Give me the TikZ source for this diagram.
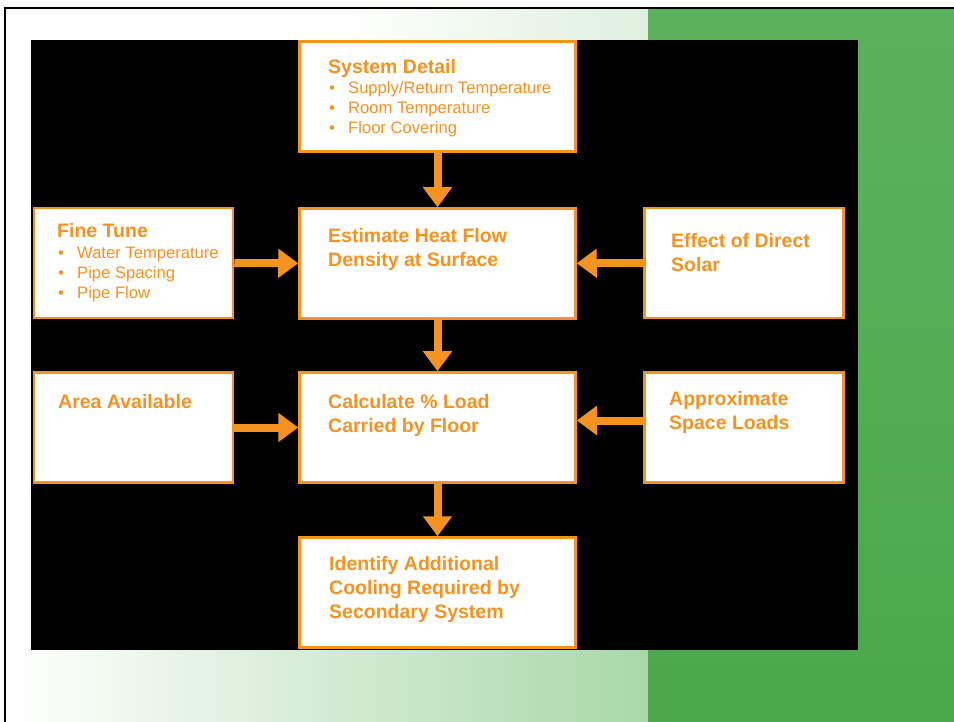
\documentclass[tikz,border=0pt]{standalone}
\usepackage{fontspec}
\setmainfont{Liberation Sans}
\usetikzlibrary{arrows.meta,positioning}
\definecolor{flowOrange}{RGB}{245,146,32}
\definecolor{leafGreen}{RGB}{74,168,74}
\definecolor{leafGreenTop}{RGB}{92,178,92}
\definecolor{paleGreen}{RGB}{168,216,168}
\definecolor{mistGreen}{RGB}{222,240,222}
\newcommand{\itemdot}{\makebox[19pt][l]{\textbullet}}

\begin{document}
\begin{tikzpicture}[x=1pt,y=-1pt,
  box/.style={draw=flowOrange,fill=white,line width=2.5pt,inner sep=0pt},
  sidebox/.style={box,minimum width=199pt,minimum height=110pt},
  midbox/.style={box,minimum width=276pt,minimum height=110pt},
  head/.style={anchor=north west,inner sep=0pt,align=left,text=flowOrange,font=\fontsize{19.5}{24}\selectfont\bfseries},
  items/.style={anchor=north west,inner sep=0pt,align=left,text=flowOrange,font=\fontsize{16.6}{20}\selectfont},
  flow/.style={draw=flowOrange,line width=8pt,-{Triangle[width=28pt,length=20pt]}}]
  \useasboundingbox (0,0) rectangle (954,722);
  \clip (0,0) rectangle (954,722);
  \fill[white] (0,0) rectangle (954,722);
  \shade[left color=white,right color=mistGreen] (340,9) rectangle (648,40);
  \shade[left color=white,right color=paleGreen] (6,650) rectangle (648,722);
  \shade[top color=leafGreenTop,bottom color=leafGreen] (648,9) rectangle (954,722);
  \draw[line width=2.5pt] (5,740) -- (5,8) -- (970,8);
  \fill (31,40) rectangle (858,650);

  \node[midbox] (sys) at (437.5,96.5) {};
  \node[sidebox] (fine) at (133.5,263) {};
  \node[midbox] (est) at (437.5,263.5) {};
  \node[sidebox] (eff) at (744,263) {};
  \node[sidebox] (area) at (133.5,427.5) {};
  \node[midbox] (calc) at (437.5,427.5) {};
  \node[sidebox] (app) at (744,427.5) {};
  \node[midbox] (ident) at (437.5,592.5) {};

  \node[head] (sysH) at (328,56.2) {\strut System Detail};
  \node[items] (sysL) at (329,79) {\strut\itemdot Supply/Return Temperature\\\itemdot Room Temperature\\\itemdot Floor Covering};
  \node[head] (fineH) at (57,220.2) {\strut Fine Tune};
  \node[items] (fineL) at (58,244) {\strut\itemdot Water Temperature\\\itemdot Pipe Spacing\\\itemdot Pipe Flow};
  \node[head] (estH) at (328,225.2) {\strut Estimate Heat Flow\\Density at Surface};
  \node[head] (effH) at (671,230.2) {\strut Effect of Direct\\Solar};
  \node[head] (areaH) at (58,391.2) {\strut Area Available};
  \node[head] (calcH) at (328,391.2) {\strut Calculate \% Load\\Carried by Floor};
  \node[head] (appH) at (669,388.2) {\strut Approximate\\Space Loads};
  \node[head] (idH) at (329,553.2) {\strut Identify Additional\\Cooling Required by\\Secondary System};

  \draw[flow] (sys) -- (est);
  \draw[flow] (fine) -- (est);
  \draw[flow] (eff) -- (est);
  \draw[flow] (est) -- (calc);
  \draw[flow] (area) -- (calc);
  \draw[flow] ([yshift=7pt]app.west) -- ([yshift=7pt]calc.east);
  \draw[flow] (calc) -- (ident);
\end{tikzpicture}
\end{document}
